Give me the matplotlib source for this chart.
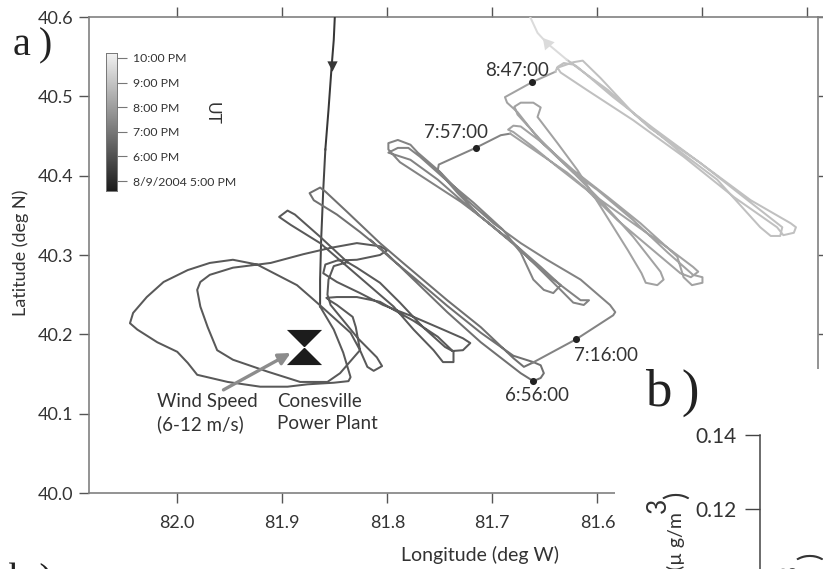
"""Flight track map near the Conesville plant, 9 Aug 2004."""

import matplotlib

matplotlib.use("Agg")
import matplotlib.pyplot as plt
import numpy as np
from matplotlib.colors import LinearSegmentedColormap, Normalize
from matplotlib.lines import Line2D

W, H = 823, 569

plt.rcParams["font.family"] = ["Lato", "DejaVu Sans"]

# colour of each leg is its time (hours PM)
inbound_top_lon = [81.850, 81.851, 81.853, 81.856, 81.859]
inbound_top_lat = [40.600, 40.571, 40.538, 40.483, 40.433]
inbound_low_lon = [81.859, 81.861, 81.863, 81.864, 81.864]
inbound_low_lat = [40.433, 40.382, 40.319, 40.269, 40.235]

loops_lon = [81.864, 81.851, 81.842, 81.835, 81.837, 81.851, 81.876, 81.895, 81.921, 81.952, 81.981, 81.990,
             82.000, 82.019, 82.038, 82.045, 82.042, 82.029, 82.013, 81.990, 81.969, 81.947, 81.924, 81.905,
             81.886, 81.873, 81.861, 81.835, 81.826, 81.819, 81.813, 81.805, 81.810, 81.828, 81.854, 81.857,
             81.856, 81.851, 81.838, 81.829, 81.807, 81.788, 81.766, 81.745, 81.738, 81.728, 81.721, 81.728,
             81.747, 81.775, 81.804, 81.826, 81.848, 81.861, 81.859, 81.848, 81.829, 81.807, 81.800, 81.807,
             81.829, 81.854, 81.880, 81.911, 81.947, 81.969, 81.978, 81.981, 81.978, 81.971, 81.962, 81.947,
             81.914, 81.883, 81.857, 81.845, 81.828, 81.826, 81.830, 81.833, 81.848, 81.854, 81.858, 81.848,
             81.829, 81.807, 81.794, 81.775, 81.752, 81.737, 81.737, 81.747, 81.756, 81.775, 81.794, 81.829,
             81.864, 81.892, 81.903, 81.895, 81.888, 81.864, 81.838]
loops_lat = [40.235, 40.206, 40.177, 40.146, 40.141, 40.139, 40.137, 40.134, 40.134, 40.140, 40.149, 40.164,
             40.178, 40.190, 40.206, 40.214, 40.227, 40.247, 40.266, 40.281, 40.290, 40.294, 40.288, 40.275,
             40.262, 40.247, 40.233, 40.202, 40.180, 40.159, 40.154, 40.160, 40.171, 40.195, 40.237, 40.250,
             40.269, 40.286, 40.291, 40.284, 40.265, 40.240, 40.209, 40.184, 40.179, 40.180, 40.189, 40.195,
             40.206, 40.222, 40.237, 40.252, 40.266, 40.277, 40.288, 40.293, 40.294, 40.300, 40.306, 40.311,
             40.315, 40.309, 40.301, 40.290, 40.284, 40.275, 40.266, 40.256, 40.235, 40.209, 40.180, 40.168,
             40.153, 40.140, 40.140, 40.151, 40.177, 40.180, 40.209, 40.222, 40.237, 40.242, 40.246, 40.247,
             40.247, 40.241, 40.231, 40.217, 40.197, 40.178, 40.165, 40.165, 40.180, 40.206, 40.235, 40.275,
             40.315, 40.338, 40.348, 40.356, 40.351, 40.323, 40.291]

survey1_lon = [81.816, 81.797, 81.775, 81.743, 81.711, 81.680, 81.661, 81.654, 81.651, 81.654, 81.661, 81.673,
               81.711, 81.743, 81.775, 81.800, 81.826, 81.848, 81.870, 81.874, 81.864, 81.859, 81.838, 81.807,
               81.785, 81.743, 81.711, 81.680, 81.670, 81.662]
survey1_lat = [40.319, 40.296, 40.272, 40.236, 40.202, 40.173, 40.165, 40.161, 40.151, 40.145, 40.141, 40.151,
               40.190, 40.228, 40.269, 40.301, 40.329, 40.351, 40.369, 40.378, 40.385, 40.380, 40.354, 40.315,
               40.290, 40.243, 40.209, 40.170, 40.159, 40.164]

survey2_lon = [81.662, 81.620, 81.585, 81.583, 81.588, 81.616, 81.648, 81.673, 81.699, 81.724, 81.750, 81.771,
               81.778, 81.790, 81.799, 81.799, 81.788, 81.759, 81.730, 81.705, 81.680, 81.664, 81.642, 81.616,
               81.608, 81.613, 81.623, 81.635, 81.654, 81.673, 81.699, 81.728, 81.752, 81.778, 81.799, 81.790,
               81.780, 81.769, 81.747, 81.718, 81.690, 81.673, 81.661, 81.651, 81.642, 81.635, 81.654, 81.680,
               81.711, 81.733, 81.752, 81.751, 81.716, 81.692, 81.683]
survey2_lat = [40.164, 40.194, 40.224, 40.228, 40.237, 40.269, 40.294, 40.315, 40.340, 40.369, 40.405, 40.429,
               40.439, 40.445, 40.441, 40.433, 40.417, 40.392, 40.367, 40.342, 40.315, 40.294, 40.269, 40.243,
               40.243, 40.237, 40.240, 40.256, 40.281, 40.306, 40.335, 40.367, 40.395, 40.420, 40.429, 40.435,
               40.435, 40.424, 40.398, 40.366, 40.332, 40.303, 40.269, 40.256, 40.252, 40.262, 40.285, 40.315,
               40.348, 40.378, 40.407, 40.414, 40.435, 40.451, 40.453]

survey3_lon = [81.683, 81.661, 81.629, 81.604, 81.566, 81.533, 81.509, 81.504, 81.511, 81.521, 81.547, 81.581,
               81.610, 81.638, 81.661, 81.680, 81.685, 81.680, 81.673, 81.654, 81.623, 81.590, 81.559, 81.524,
               81.518, 81.510, 81.500, 81.500, 81.509, 81.533, 81.566, 81.600, 81.623, 81.654, 81.676, 81.679,
               81.673, 81.661, 81.654, 81.657, 81.638, 81.619, 81.597, 81.571, 81.558, 81.554, 81.543, 81.537,
               81.540, 81.566, 81.600, 81.623, 81.654, 81.676, 81.686, 81.688, 81.662, 81.640]
survey3_lat = [40.453, 40.433, 40.404, 40.376, 40.340, 40.309, 40.285, 40.279, 40.272, 40.277, 40.306, 40.344,
               40.382, 40.411, 40.436, 40.455, 40.458, 40.463, 40.462, 40.443, 40.407, 40.373, 40.340, 40.298,
               40.272, 40.262, 40.265, 40.272, 40.275, 40.303, 40.344, 40.382, 40.404, 40.445, 40.477, 40.487,
               40.492, 40.492, 40.486, 40.474, 40.441, 40.407, 40.361, 40.306, 40.277, 40.265, 40.262, 40.269,
               40.279, 40.323, 40.373, 40.404, 40.443, 40.480, 40.492, 40.499, 40.518, 40.531]

survey4_lon = [81.640, 81.638, 81.632, 81.623, 81.590, 81.550, 81.502, 81.454, 81.416, 81.411, 81.413, 81.423,
               81.429, 81.470, 81.518, 81.566, 81.610, 81.635, 81.638, 81.623, 81.614, 81.597, 81.566, 81.524,
               81.486, 81.445, 81.435, 81.426, 81.424, 81.454, 81.502, 81.547, 81.585, 81.619, 81.629]
survey4_lat = [40.531, 40.537, 40.542, 40.540, 40.508, 40.460, 40.416, 40.369, 40.340, 40.335, 40.328, 40.325,
               40.335, 40.373, 40.424, 40.470, 40.508, 40.530, 40.536, 40.543, 40.545, 40.523, 40.479, 40.433,
               40.395, 40.335, 40.324, 40.324, 40.335, 40.366, 40.416, 40.460, 40.499, 40.537, 40.546]

outbound_lon = [81.629, 81.648, 81.657, 81.664]
outbound_lat = [40.546, 40.567, 40.580, 40.600]

legs = [
    (inbound_top_lon, inbound_top_lat, 5.3),
    (inbound_low_lon, inbound_low_lat, 5.7),
    (loops_lon, loops_lat, 6.2),
    (survey1_lon, survey1_lat, 6.8),
    (survey2_lon, survey2_lat, 7.3),
    (survey3_lon, survey3_lat, 8.1),
    (survey4_lon, survey4_lat, 8.9),
    (outbound_lon, outbound_lat, 9.6),
]

stamp_labels = ["6:56:00", "7:16:00", "7:57:00", "8:47:00"]
stamp_lon = [81.661, 81.620, 81.716, 81.662]
stamp_lat = [40.141, 40.194, 40.435, 40.518]

plant_lon, plant_lat = 81.8795, 40.184
wind_from = (81.956, 40.130)
wind_to = (81.892, 40.1765)

lat_ticks = [40.0, 40.1, 40.2, 40.3, 40.4, 40.5, 40.6]
lon_ticks = [82.0, 81.9, 81.8, 81.7, 81.6, 81.5, 81.4]
lon_labels = ["82.0", "81.9", "81.8", "81.7", "81.6", "", ""]
hour_ticks = [5, 6, 7, 8, 9, 10]
hour_labels = ["8/9/2004 5:00 PM", "6:00 PM", "7:00 PM", "8:00 PM", "9:00 PM", "10:00 PM"]
b_ticks = [0.12, 0.14]

TEXT = "#333333"
SPINE = "#808080"
time_cmap = LinearSegmentedColormap.from_list("ut", ["#1c1c1c", "#f2f2f2"])
time_norm = Normalize(4.6, 10.2)


def px_axes(fig, x0, y0, x1, y1, **kw):
    # box given in picture pixels, y from the top
    return fig.add_axes([x0 / W, 1 - y1 / H, (x1 - x0) / W, (y1 - y0) / H], **kw)


def fx(x):
    return x / W


def fy(y):
    return 1 - y / H


fig = plt.figure(figsize=(W / 100, H / 100), dpi=100, facecolor="white")

ax = px_axes(fig, 89, 17, 818, 493)
ax.set_xlim(82.084, 81.390)
ax.set_ylim(40.0, 40.6)
for side in ax.spines:
    ax.spines[side].set_color(SPINE)
    ax.spines[side].set_linewidth(1.2)

ax.set_xticks(lon_ticks, lon_labels)
ax.set_yticks(lat_ticks, [f"{v:.1f}" for v in lat_ticks])
ax.tick_params(axis="x", which="both", top=True, direction="out", length=7.5, width=1, color="#555555",
               labelsize=13, labelcolor=TEXT, pad=8)
ax.tick_params(axis="y", which="both", right=True, direction="out", length=7.5, width=1, color="#555555",
               labelsize=13, labelcolor=TEXT, pad=4)
fig.text(fx(480), fy(555), "Longitude (deg W)", fontsize=14, color=TEXT, ha="center", va="center")
fig.text(fx(21), fy(253), "Latitude (deg N)", fontsize=13, color=TEXT, rotation=90, ha="center", va="center")
fig.add_artist(Line2D([fx(818), fx(823)], [fy(17), fy(17)], color=SPINE, lw=1.2))

for lon, lat, hour in legs:
    ax.plot(lon, lat, color=time_cmap(time_norm(hour)), lw=1.45, solid_joinstyle="round", zorder=3)

ax.scatter([81.853], [40.538], marker="v", s=55, color=time_cmap(time_norm(5.3)), zorder=4, linewidths=0)
ax.scatter([81.648], [40.567], marker=(3, 0, 40), s=110, color=time_cmap(time_norm(9.6)), zorder=4, linewidths=0)

ax.scatter(stamp_lon, stamp_lat, s=26, color="#222222", zorder=5, linewidths=0)
stamp_offsets = [(3, -10), (21, -11.5), (-14, 11), (-11, 8)]
for text, lon, lat, off in zip(stamp_labels, stamp_lon, stamp_lat, stamp_offsets):
    ax.annotate(text, (lon, lat), xytext=off, textcoords="offset points", ha="center", va="center",
                fontsize=13.5, color=TEXT, zorder=6)

bowtie = [(-1, 1), (1, 1), (-1, -1), (1, -1), (-1, 1)]
ax.scatter([plant_lon], [plant_lat], marker=bowtie, s=640, color="#1c1c1c", linewidths=0, zorder=5)
ax.annotate("", xy=wind_to, xytext=wind_from, zorder=5,
            arrowprops=dict(arrowstyle="-|>,head_length=0.7,head_width=0.35", color="#8c8c8c", lw=2.4,
                            shrinkA=0, shrinkB=0))
ax.text(82.019, 40.126, "Wind Speed\n(6-12 m/s)", ha="left", va="top", fontsize=13.5, color=TEXT,
        linespacing=1.35, clip_on=False)
ax.text(81.905, 40.126, "Conesville\nPower Plant", ha="left", va="top", fontsize=13.5, color=TEXT,
        linespacing=1.35, clip_on=False)

# time scale bar in the upper left of the map
cax = px_axes(fig, 106, 53, 117, 191)
cax.imshow(np.linspace(10.2, 4.6, 256)[:, None], aspect="auto", cmap=time_cmap, norm=time_norm,
           extent=[0, 1, 4.6, 10.2])
cax.set_xticks([])
cax.set_yticks(hour_ticks, hour_labels)
cax.yaxis.tick_right()
cax.tick_params(axis="y", length=7, width=0.8, color="#777777", labelsize=8.8, labelcolor=TEXT, pad=4.5)
for side in cax.spines:
    cax.spines[side].set_color("#777777")
    cax.spines[side].set_linewidth(0.7)
fig.text(fx(212), fy(113), "UT", rotation=-90, ha="center", va="center", fontsize=12.5, color=TEXT)

# panel b sits over the corner of the map
cover = px_axes(fig, 615, 369, 823, 569, facecolor="white")
cover.set_xticks([])
cover.set_yticks([])
for side in cover.spines:
    cover.spines[side].set_visible(False)

axb = px_axes(fig, 760, 435, 823, 569)
axb.patch.set_alpha(0)
axb.set_ylim(0.14 - (569 - 435) / 3700, 0.14)
axb.set_xticks([])
axb.set_yticks(b_ticks, [f"{v:.2f}" for v in b_ticks])
axb.tick_params(axis="y", length=10.5, width=1, color="#444444", labelsize=15, labelcolor=TEXT, pad=6)
for side in ("top", "right", "bottom"):
    axb.spines[side].set_visible(False)
axb.spines["left"].set_color("#444444")
axb.spines["left"].set_linewidth(1.1)

fig.text(fx(13), fy(55), "a\u2009)", family="Liberation Serif", fontsize=29, color="#222222", ha="left", va="baseline")
cover.text(fx(645), fy(406), "b\u2009)", family="Liberation Serif", fontsize=38, color="#222222", ha="left",
           va="baseline", transform=fig.transFigure, clip_on=True)
fig.text(fx(9), fy(591), "b )", family="Liberation Serif", fontsize=29, color="#222222", ha="left", va="baseline")

# clipped labels of the panels below
fig.text(fx(676), fy(512), "(µ g/m", rotation=90, ha="center", va="top", fontsize=14, color=TEXT)
fig.text(fx(658), fy(505), "3", rotation=90, ha="center", va="center", fontsize=19, color=TEXT)
fig.text(fx(676), fy(495), ")", rotation=90, ha="center", va="center", fontsize=20, color=TEXT)
fig.text(fx(790), fy(572), "3", rotation=90, ha="center", va="center", fontsize=19, color=TEXT)
fig.text(fx(810), fy(556), ")", rotation=90, ha="center", va="center", fontsize=20, color=TEXT)

fig.savefig("out.png", dpi=100)
plt.close(fig)
